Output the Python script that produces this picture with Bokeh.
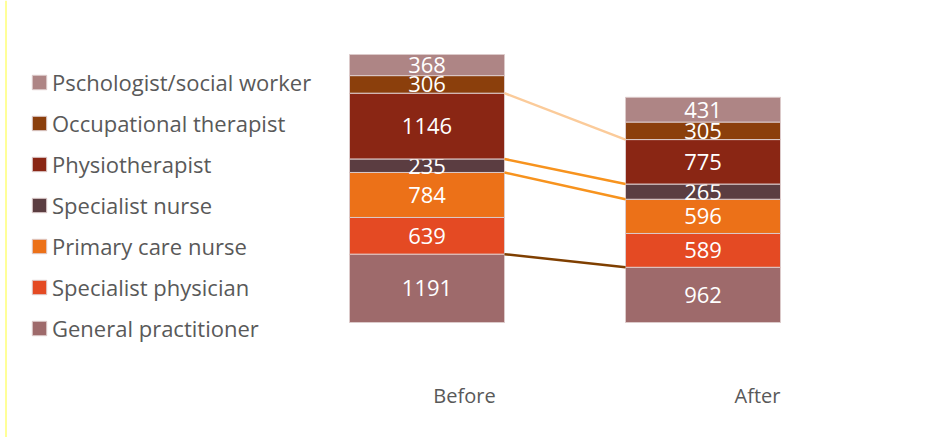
import numpy as np
from bokeh.plotting import figure
from bokeh.models import Range1d, Legend, LegendItem, Label, Span, ColumnDataSource
from bokeh.core.properties import value
from bokeh.embed import file_html
from bokeh.resources import INLINE

# ---- data ----
roles = ["General practitioner", "Specialist physician", "Primary care nurse",
         "Specialist nurse", "Physiotherapist", "Occupational therapist",
         "Pschologist/social worker"]
before = [1191, 639, 784, 235, 1146, 306, 368]
after = [962, 589, 596, 265, 775, 305, 431]
periods = ["Before", "After"]
colors = ["#9E6A6B", "#E44A23", "#EC7118", "#5B3D41", "#8A2614", "#8B3F0C", "#AE8585"]

# connectors: (role index whose top is joined, colour)
connectors = [(4, "#FBCB9A"), (3, "#F7931E"), (2, "#F7931E"), (0, "#7F3F00")]

# ---- layout ----
W, H = 939, 437
bar_x = {"Before": 426.5, "After": 702.5}
bar_w = 155
scale = 268 / sum(before)          # px per unit
base_px = 115                      # bar bottom, px from bottom
y0 = -base_px / scale
y1 = (H - base_px) / scale

p = figure(width=W, height=H, output_backend="svg", toolbar_location=None,
           x_range=Range1d(0, W), y_range=Range1d(y0, y1),
           min_border=0, outline_line_color=None, background_fill_color="white")
p.axis.visible = False
p.grid.visible = False

font = "Open Sans"
series = {"Before": np.array(before), "After": np.array(after)}
renderers = []
for i, role in enumerate(roles):
    bottoms, tops, xs = [], [], []
    for per in periods:
        v = series[per]
        b = v[:i].sum()
        bottoms.append(b)
        tops.append(b + v[i])
        xs.append(bar_x[per])
    src = ColumnDataSource(dict(x=xs, bottom=bottoms, top=tops,
                                mid=[(b + t) / 2 for b, t in zip(bottoms, tops)],
                                lab=[str(series[per][i]) for per in periods]))
    r = p.vbar(x="x", bottom="bottom", top="top", width=bar_w, source=src,
               fill_color=colors[i], line_color="#DCCACA", line_width=1)
    renderers.append(r)
    p.text(x="x", y="mid", text="lab", source=src, text_color="white",
           text_font=value(font), text_font_size="22px",
           text_align="center", text_baseline="middle")

# connector lines
for idx, col in connectors:
    yb = series["Before"][:idx + 1].sum()
    ya = series["After"][:idx + 1].sum()
    p.line(x=[bar_x["Before"] + bar_w / 2, bar_x["After"] - bar_w / 2],
           y=[yb, ya], line_color=col, line_width=2.5)

# legend (top to bottom reversed order)
items = [LegendItem(label=roles[i], renderers=[renderers[i]]) for i in reversed(range(len(roles)))]
legend = Legend(items=items, location=(30, 94), orientation="vertical",
                label_text_font=font, label_text_font_size="22px",
                label_text_color="#595959", glyph_width=18, glyph_height=18,
                label_height=24, spacing=11, padding=0, margin=0,
                label_standoff=4, border_line_color=None,
                background_fill_alpha=0)
p.add_layout(legend)

# category labels
cat_pos = {"Before": 464, "After": 757}
for per in periods:
    p.add_layout(Label(x=cat_pos[per], y=H - 395, x_units="screen", y_units="screen",
                       text=per, text_font=font, text_font_size="20px",
                       text_color="#595959", text_align="center",
                       text_baseline="middle"))

p.add_layout(Span(location=5.5, dimension="height", line_color="#FFFF33", line_width=1))

open("out.html", "w").write(file_html(p, INLINE))
